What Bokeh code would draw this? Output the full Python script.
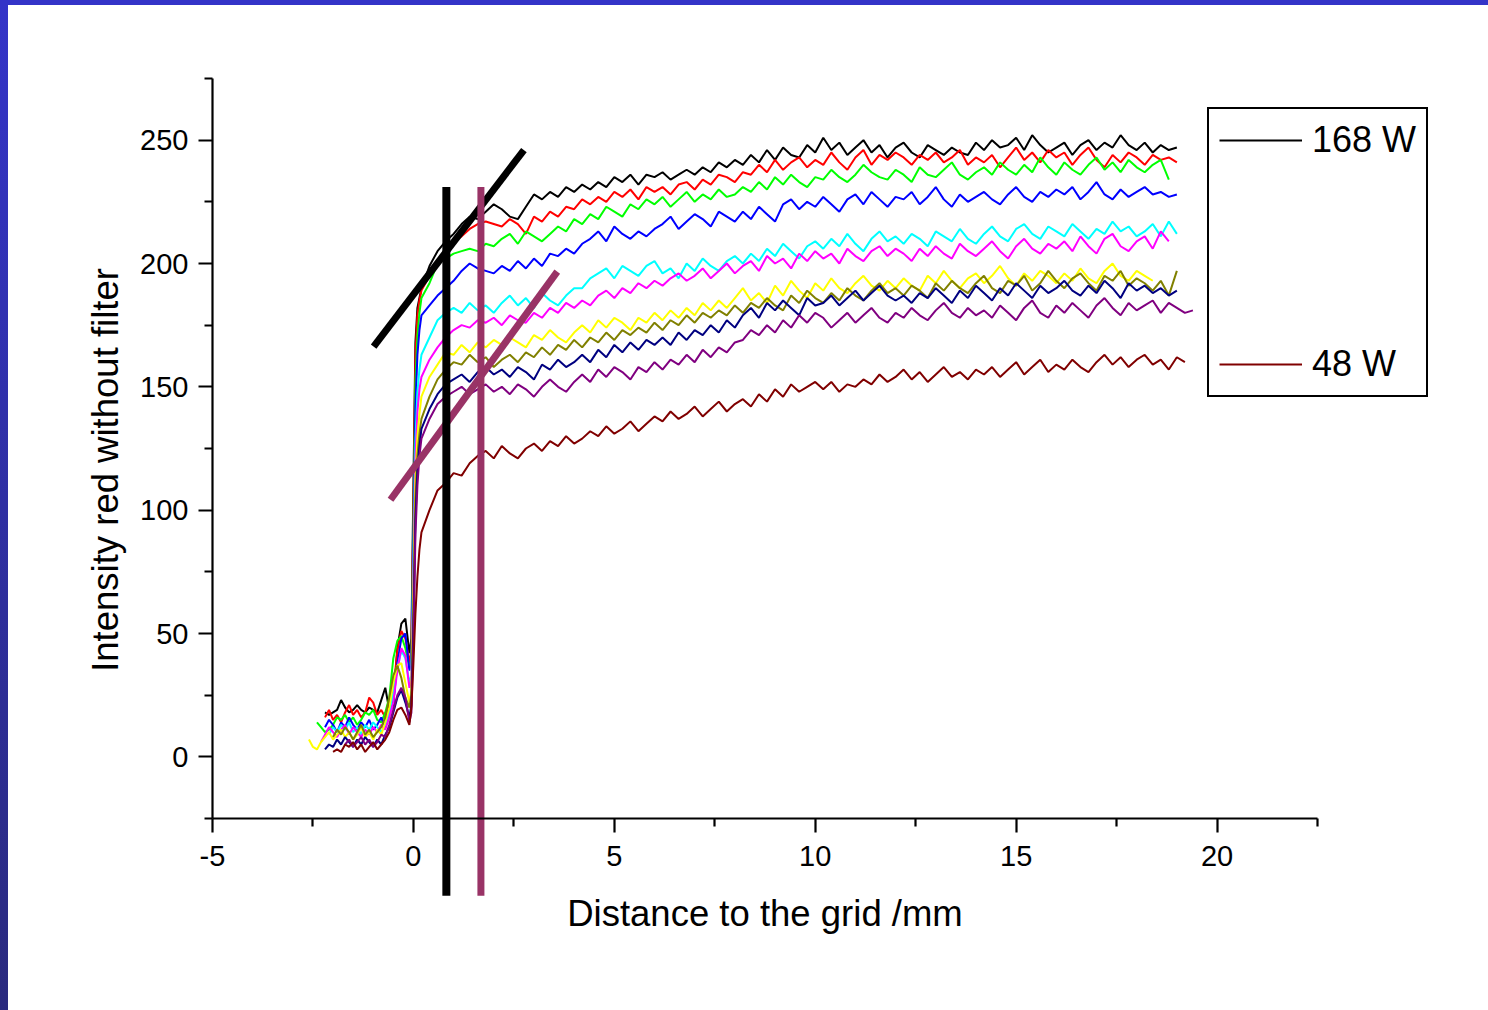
import numpy as np
from bokeh.plotting import figure
from bokeh.models import FixedTicker, Legend, LegendItem, Div, LinearAxis
from bokeh.layouts import column, row
from bokeh.embed import file_html
from bokeh.resources import INLINE

nan = float("nan")

# ---------------- data ----------------
x_pre = [-2.6, -2.5, -2.4, -2.3, -2.2, -2.1, -2.0, -1.9, -1.8, -1.7, -1.6, -1.5, -1.4,
         -1.3, -1.2, -1.1, -1.0, -0.9, -0.8, -0.7, -0.6, -0.5, -0.4, -0.3, -0.2, -0.1]
x_rise = [-0.05, 0.0, 0.05, 0.1, 0.15]
x_plateau = [0.2, 0.4, 0.6, 0.8, 1.0, 1.2, 1.4, 1.6, 1.8, 2.0,
             2.2, 2.4, 2.6, 2.8, 3.0, 3.2, 3.4, 3.6, 3.8, 4.0,
             4.2, 4.4, 4.6, 4.8, 5.0, 5.2, 5.4, 5.6, 5.8, 6.0,
             6.2, 6.4, 6.6, 6.8, 7.0, 7.2, 7.4, 7.6, 7.8, 8.0,
             8.2, 8.4, 8.6, 8.8, 9.0, 9.2, 9.4, 9.6, 9.8, 10.0,
             10.2, 10.4, 10.6, 10.8, 11.0, 11.2, 11.4, 11.6, 11.8, 12.0,
             12.2, 12.4, 12.6, 12.8, 13.0, 13.2, 13.4, 13.6, 13.8, 14.0,
             14.2, 14.4, 14.6, 14.8, 15.0, 15.2, 15.4, 15.6, 15.8, 16.0,
             16.2, 16.4, 16.6, 16.8, 17.0, 17.2, 17.4, 17.6, 17.8, 18.0,
             18.2, 18.4, 18.6, 18.8, 19.0, 19.2, 19.4]
distance_mm = x_pre + x_rise + x_plateau

intensity_black = [
    nan, nan, nan, nan, 18, 17, 18, 19, 23, 20, 18, 19, 21, 19, 18, 20, 19, 18, 23, 28, 19, 21, 44, 54, 56, 42,
    48, 110, 168, 182, 186,
    190, 199, 205, 209, 212, 216, 219, 218, 221, 224,
    222, 219, 218, 223, 228, 226, 229, 227, 231, 229,
    232, 230, 233, 231, 235, 233, 236, 232, 236, 235,
    237, 234, 236, 238, 236, 239, 237, 241, 239, 242,
    240, 244, 241, 246, 242, 247, 244, 243, 248, 245,
    251, 246, 249, 244, 247, 250, 245, 248, 243, 247,
    249, 245, 243, 248, 246, 244, 247, 245, 244, 249,
    246, 250, 247, 248, 251, 246, 252, 248, 245, 247,
    249, 244, 248, 250, 246, 249, 247, 252, 248, 246,
    249, 245, 248, 246, 247, nan, nan]

intensity_red = [
    nan, nan, nan, nan, 16, 19, 15, 17, 14, 18, 21, 17, 19, 16, 18, 24, 22, 17, 19, 16, 20, 27, 43, 51, 48, 38,
    44, 100, 163, 179, 185,
    189, 195, 200, 205, 209, 211, 214, 216, 217, 216,
    215, 218, 216, 212, 219, 217, 221, 219, 223, 222,
    226, 224, 227, 225, 229, 227, 230, 226, 231, 229,
    231, 228, 232, 233, 230, 234, 232, 236, 235, 233,
    237, 236, 240, 237, 242, 238, 241, 243, 239, 242,
    240, 245, 241, 238, 243, 246, 240, 244, 242, 245,
    243, 240, 244, 242, 245, 241, 243, 246, 240, 243,
    241, 244, 239, 243, 247, 242, 245, 241, 246, 243,
    245, 240, 244, 247, 242, 239, 244, 241, 245, 243,
    240, 244, 242, 243, 241, nan, nan]

intensity_green = [
    nan, nan, 14, 12, 10, 11, 13, 16, 15, 17, 14, 16, 13, 15, 18, 17, 19, 15, 14, 18, 24, 40, 47, 49, 44, 36,
    40, 92, 152, 171, 180,
    186, 192, 200, 202, 204, 205, 206, 205, 208, 207,
    210, 212, 208, 213, 211, 209, 212, 215, 213, 218,
    216, 220, 218, 223, 221, 219, 224, 222, 226, 224,
    227, 223, 226, 229, 225, 228, 226, 230, 227, 228,
    231, 229, 233, 230, 235, 232, 236, 233, 231, 235,
    234, 238, 235, 233, 236, 240, 237, 235, 234, 238,
    236, 233, 239, 236, 235, 238, 241, 236, 234, 237,
    239, 236, 241, 238, 236, 240, 237, 243, 239, 236,
    241, 238, 236, 240, 243, 238, 241, 237, 242, 239,
    237, 240, 242, 234, nan, nan, nan]

intensity_blue = [
    nan, nan, nan, nan, 12, 15, 13, 10, 14, 12, 16, 13, 11, 14, 12, 15, 11, 13, 16, 12, 17, 22, 38, 48, 50, 35,
    37, 86, 142, 163, 173,
    179, 183, 187, 190, 193, 197, 200, 198, 197, 196,
    199, 197, 201, 198, 202, 199, 204, 203, 206, 204,
    208, 210, 213, 209, 215, 212, 210, 213, 211, 214,
    216, 219, 214, 217, 220, 218, 215, 221, 219, 217,
    221, 218, 223, 220, 217, 224, 226, 222, 225, 223,
    227, 224, 221, 226, 228, 224, 229, 226, 223, 227,
    226, 229, 224, 227, 231, 226, 223, 228, 225, 227,
    229, 226, 224, 228, 231, 227, 225, 229, 227, 230,
    228, 231, 226, 229, 233, 228, 226, 230, 227, 229,
    231, 228, 229, 227, 228, nan, nan]

intensity_cyan = [
    nan, nan, nan, nan, nan, 9, 12, 10, 13, 11, 14, 10, 12, 9, 13, 11, 14, 12, 10, 13, 18, 26, 36, 43, 40, 30,
    33, 78, 128, 148, 157,
    163, 170, 177, 180, 182, 180, 184, 181, 183, 180,
    184, 187, 183, 186, 182, 188, 185, 183, 187, 190,
    190, 194, 196, 198, 194, 199, 197, 195, 199, 201,
    196, 198, 194, 200, 197, 202, 199, 197, 201, 203,
    200, 204, 201, 206, 203, 208, 205, 202, 207, 209,
    206, 210, 207, 212, 208, 205, 210, 213, 209, 211,
    208, 212, 210, 207, 213, 211, 209, 214, 210, 208,
    212, 215, 211, 209, 214, 216, 212, 210, 215, 213,
    211, 216, 213, 210, 214, 212, 217, 213, 215, 211,
    213, 216, 211, 217, 212, nan, nan]

intensity_magenta = [
    nan, nan, nan, 6, 9, 12, 10, 8, 11, 13, 9, 12, 10, 8, 11, 9, 12, 10, 13, 11, 16, 22, 35, 44, 41, 28,
    31, 72, 120, 140, 149,
    154, 161, 166, 170, 173, 175, 174, 177, 176, 178,
    175, 179, 177, 176, 180, 178, 182, 180, 184, 182,
    185, 183, 187, 189, 186, 190, 188, 192, 190, 193,
    191, 194, 196, 193, 195, 198, 194, 197, 200, 196,
    199, 201, 197, 203, 200, 202, 198, 204, 201, 205,
    202, 204, 200, 206, 203, 201, 205, 207, 203, 206,
    204, 201, 206, 203, 207, 204, 202, 208, 205, 203,
    206, 209, 205, 202, 207, 210, 206, 204, 208, 206,
    209, 205, 211, 207, 204, 210, 212, 207, 205, 209,
    211, 206, 213, 209, nan, nan, nan]

intensity_yellow = [
    7, 4, 3, 6, 8, 10, 7, 9, 11, 8, 10, 7, 9, 12, 8, 10, 7, 11, 9, 14, 20, 30, 37, 38, 30, 22,
    27, 66, 112, 130, 139,
    146, 154, 159, 164, 163, 167, 164, 168, 166, 169,
    167, 170, 168, 166, 171, 169, 173, 170, 168, 172,
    175, 172, 177, 174, 178, 176, 173, 178, 176, 180,
    177, 181, 178, 182, 179, 184, 181, 185, 182, 186,
    190, 185, 188, 184, 191, 187, 193, 189, 186, 192,
    189, 194, 190, 188, 192, 195, 191, 189, 193, 190,
    194, 191, 189, 195, 192, 197, 193, 190, 194, 196,
    192, 195, 199, 194, 191, 196, 193, 197, 195, 192,
    196, 193, 198, 194, 192, 197, 200, 195, 193, 197,
    195, 193, nan, nan, nan, nan, nan]

intensity_olive = [
    nan, nan, nan, nan, nan, nan, 8, 11, 9, 12, 10, 7, 10, 13, 9, 11, 8, 10, 12, 16, 24, 33, 37, 32, 24, 20,
    25, 60, 104, 122, 131,
    137, 146, 153, 157, 160, 159, 163, 160, 162, 158,
    161, 163, 160, 164, 162, 166, 163, 167, 165, 169,
    166, 170, 168, 172, 169, 173, 171, 174, 172, 176,
    173, 177, 175, 179, 176, 180, 178, 181, 179, 183,
    180, 184, 182, 186, 183, 181, 187, 184, 189, 186,
    184, 188, 185, 190, 187, 185, 189, 192, 188, 190,
    187, 191, 189, 186, 192, 189, 193, 190, 188, 192,
    195, 190, 188, 193, 191, 195, 189, 192, 197, 193,
    190, 194, 196, 192, 189, 195, 193, 197, 191, 194,
    192, 189, 193, 187, 197, nan, nan]

intensity_navy = [
    nan, nan, nan, nan, 3, 5, 4, 7, 5, 8, 6, 4, 7, 5, 8, 6, 4, 7, 5, 9, 12, 18, 24, 27, 22, 16,
    21, 52, 96, 116, 126,
    133, 141, 147, 151, 153, 155, 152, 156, 158, 155,
    157, 154, 158, 156, 153, 159, 157, 161, 158, 160,
    163, 160, 165, 162, 167, 164, 168, 165, 169, 167,
    170, 167, 172, 169, 173, 171, 175, 172, 177, 174,
    179, 182, 178, 184, 181, 185, 182, 179, 186, 183,
    184, 187, 183, 186, 189, 185, 188, 191, 187, 185,
    187, 184, 188, 186, 190, 187, 184, 189, 186, 191,
    188, 185, 190, 187, 192, 189, 186, 191, 188, 190,
    193, 189, 187, 191, 188, 193, 190, 186, 192, 189,
    191, 188, 190, 187, 189, nan, nan]

intensity_purple = [
    nan, nan, nan, nan, nan, nan, nan, nan, nan, 5, 7, 4, 6, 8, 5, 7, 4, 6, 9, 8, 13, 19, 25, 28, 24, 14,
    18, 46, 90, 110, 122,
    129, 137, 143, 146, 148, 150, 147, 149, 151, 148,
    150, 147, 151, 149, 146, 150, 153, 150, 148, 152,
    155, 152, 157, 154, 158, 156, 153, 158, 156, 160,
    157, 161, 159, 163, 160, 165, 162, 166, 164, 168,
    169, 173, 171, 175, 172, 177, 174, 179, 176, 180,
    178, 174, 177, 180, 176, 179, 182, 178, 176, 180,
    178, 182, 179, 177, 181, 184, 180, 178, 182, 179,
    181, 178, 183, 180, 177, 182, 185, 180, 178, 183,
    180, 184, 181, 178, 183, 186, 182, 179, 184, 181,
    183, 185, 180, 184, 182, 180, 181]

intensity_darkred = [
    nan, nan, nan, nan, nan, nan, 2, 3, 2, 5, 4, 6, 3, 5, 2, 4, 6, 3, 5, 7, 10, 15, 19, 20, 17, 13,
    20, 38, 58, 73, 84,
    91, 100, 108, 111, 115, 114, 119, 122, 124, 121,
    126, 123, 121, 125, 127, 124, 128, 126, 130, 127,
    129, 132, 130, 134, 131, 133, 136, 132, 135, 138,
    136, 140, 137, 139, 142, 138, 141, 144, 140, 143,
    145, 142, 147, 144, 149, 146, 151, 148, 150, 152,
    149, 152, 148, 151, 150, 153, 151, 155, 152, 154,
    157, 153, 156, 152, 155, 158, 154, 156, 153, 157,
    155, 158, 154, 157, 160, 155, 158, 161, 156, 159,
    157, 161, 158, 156, 160, 163, 159, 162, 158, 161,
    163, 159, 161, 157, 162, 160, nan]

series = [intensity_black, intensity_red, intensity_green, intensity_blue, intensity_cyan,
          intensity_magenta, intensity_yellow, intensity_olive, intensity_navy,
          intensity_purple, intensity_darkred]
series_colors = ["#000000", "#ff0000", "#00ff00", "#0000ff", "#00ffff", "#ff00ff",
                 "#ffff00", "#808000", "#000080", "#800080", "#800000"]
legend_labels = ["168 W", "48 W"]

# guide lines drawn on the chart
fit_black_x = [-0.99, 2.75]
fit_black_y = [166.3, 246.0]
fit_purple_x = [-0.57, 3.58]
fit_purple_y = [104.2, 196.7]
marker_x = [0.82, 1.68]
marker_top = 231
marker_bottom = -56.3

x_major = [-5, 0, 5, 10, 15, 20]
x_minor = [-2.5, 2.5, 7.5, 12.5, 17.5, 22.5]
y_major = [0, 50, 100, 150, 200, 250]
y_minor = [-25, 25, 75, 125, 175, 225, 275]
x_axis_span = (-5, 22.5)
y_axis_span = (-25, 275)
y_title_center = 116.3

# ---------------- layout (page pixels) ----------------
FONT = "Liberation Sans"
FIG_LEFT, FIG_TOP, FIG_W, FIG_H = 8, 5, 1480, 1005     # figure placement on the page
AX_LEFT, AX_RIGHT, AX_TOP, AX_BOTTOM = 212, 1317, 78, 818  # where the axes are drawn
px_x = (AX_RIGHT - AX_LEFT) / (x_axis_span[1] - x_axis_span[0])
px_y = (AX_BOTTOM - AX_TOP) / (y_axis_span[1] - y_axis_span[0])
x_start = x_axis_span[0] - (AX_LEFT - FIG_LEFT) / px_x
x_end = x_axis_span[0] + (FIG_LEFT + FIG_W - AX_LEFT) / px_x
y_end = y_axis_span[1] + (AX_TOP - FIG_TOP) / px_y
y_start = y_axis_span[0] - (FIG_TOP + FIG_H - AX_BOTTOM) / px_y

p = figure(frame_width=FIG_W, frame_height=FIG_H,
           x_range=(x_start, x_end), y_range=(y_start, y_end),
           output_backend="svg", toolbar_location=None,
           background_fill_color="white", border_fill_color="white",
           outline_line_color=None, margin=0)
p.min_border = 0
p.xgrid.visible = False
p.ygrid.visible = False

p.xaxis.ticker = FixedTicker(ticks=x_major, minor_ticks=x_minor)
p.yaxis.ticker = FixedTicker(ticks=y_major, minor_ticks=y_minor)
p.xaxis.major_label_overrides = {-5: "-5"}
p.xaxis.axis_label = "Distance to the grid /mm"
p.xaxis.bounds = x_axis_span
p.yaxis.bounds = y_axis_span
p.xaxis.fixed_location = y_axis_span[0]
p.yaxis.fixed_location = x_axis_span[0]
for ax in (p.xaxis[0], p.yaxis[0]):
    ax.axis_line_width = 2.2
    ax.axis_line_color = "black"
    ax.major_tick_line_width = 2.2
    ax.minor_tick_line_width = 2.2
    ax.major_tick_line_color = "black"
    ax.minor_tick_line_color = "black"
    ax.major_tick_in = 0
    ax.major_tick_out = 14
    ax.minor_tick_in = 0
    ax.minor_tick_out = 8
    ax.major_label_text_font = FONT
    ax.major_label_text_font_size = "29px"
    ax.major_label_text_color = "black"
    ax.axis_label_text_font = FONT
    ax.axis_label_text_font_size = "36.5px"
    ax.axis_label_text_font_style = "normal"
    ax.axis_label_text_color = "black"
p.xaxis.major_label_standoff = 13
p.yaxis.major_label_standoff = 10
p.xaxis.axis_label_standoff = 24

# y title carried by a line-less axis whose span is centred on the title position
y_title_axis = LinearAxis(
    fixed_location=x_axis_span[0],
    bounds=(2 * y_title_center - y_axis_span[1], y_axis_span[1]),
    ticker=FixedTicker(ticks=[], minor_ticks=[]),
    axis_label="Intensity red without filter",
    axis_line_color=None, major_tick_line_color=None, minor_tick_line_color=None,
    major_tick_in=0, major_tick_out=0, minor_tick_in=0, minor_tick_out=0,
    major_label_standoff=0,
    axis_label_standoff=87,
    axis_label_text_font=FONT, axis_label_text_font_size="36.5px",
    axis_label_text_font_style="normal", axis_label_text_color="black")
p.add_layout(y_title_axis, "left")

renderers = []
for vals, col in zip(series, series_colors):
    r = p.line(np.array(distance_mm, dtype=float), np.array(vals, dtype=float),
               line_color=col, line_width=2.0)
    renderers.append(r)

p.line(fit_black_x, fit_black_y, line_color="black", line_width=7, line_cap="butt")
p.line(fit_purple_x, fit_purple_y, line_color="#993366", line_width=7, line_cap="butt")

marker_colors = ["black", "#993366"]
marker_widths = [8, 7]
for xc, w, col in zip(marker_x, marker_widths, marker_colors):
    p.segment(x0=[xc], y0=[marker_bottom], x1=[xc], y1=[marker_top],
              line_color=col, line_width=w, line_cap="butt")

LEG_LEFT, LEG_BOTTOM = 1207, 397
legend = Legend(items=[LegendItem(label=legend_labels[0], renderers=[renderers[0]]),
                       LegendItem(label=legend_labels[1], renderers=[renderers[-1]])],
                location=(LEG_LEFT - FIG_LEFT, FIG_TOP + FIG_H - LEG_BOTTOM),
                orientation="vertical",
                label_text_font=FONT, label_text_font_size="36px", label_text_color="black",
                glyph_width=83, glyph_height=42, label_height=42, label_standoff=10,
                spacing=182, padding=10, margin=0,
                border_line_color="black", border_line_width=2, border_line_alpha=1.0,
                background_fill_color="white", background_fill_alpha=1.0)
p.add_layout(legend)

top_bar = Div(width=FIG_LEFT + FIG_W, height=FIG_TOP, margin=0, styles={"background": "#3434c8"})
left_bar = Div(width=FIG_LEFT, height=FIG_H, margin=0,
               styles={"background": "linear-gradient(to bottom, #3434c8, #2a2a7e)"})
page = column(top_bar, row(left_bar, p, spacing=0, margin=0), spacing=0, margin=0)

open("out.html", "w").write(file_html(page, INLINE))
